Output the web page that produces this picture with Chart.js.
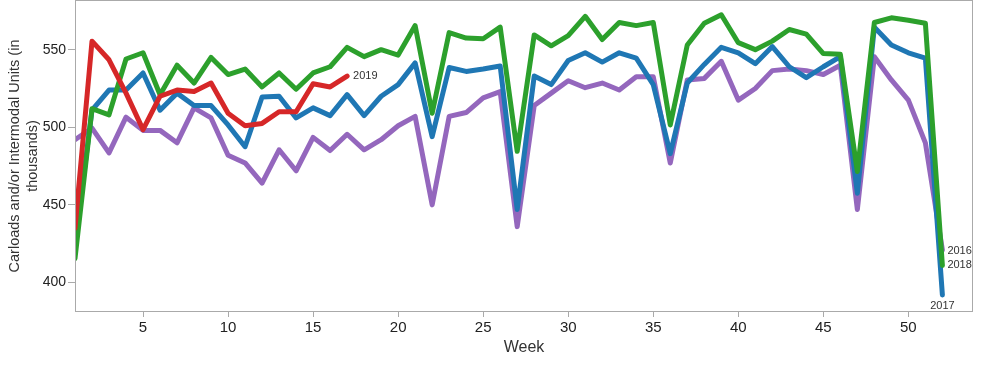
<!DOCTYPE html>
<html>
<head>
<meta charset="utf-8">
<script src="https://cdn.jsdelivr.net/npm/chart.js@4.4.1/dist/chart.umd.min.js"></script>
<style>
  html, body { margin: 0; padding: 0; background: #fff; }
  #wrap { width: 981px; height: 375px; position: relative; }
</style>
</head>
<body>
<div id="wrap"><canvas id="c" width="981" height="375"></canvas></div>
<script>
const weeks = [1,2,3,4,5,6,7,8,9,10,11,12,13,14,15,16,17,18,19,20,21,22,23,24,25,26,
  27,28,29,30,31,32,33,34,35,36,37,38,39,40,41,42,43,44,45,46,47,48,49,50,51,52];

const values2016 = [492,499.5,483.5,506.5,498,498,490,512.5,506,482,477,464,485.5,472,493.5,485,
  495.5,485.5,492,501,507,450,507,509.5,519,523,436,514,522,530,525.5,528.5,524,532.5,532.5,477,
  530.5,531.5,542.5,517.5,525,536.5,537.5,536.5,534,540,447,545.5,530.5,517.5,490,421];

const values2017 = [425,511,524,524,535,511,522,514,514,501.5,487.5,519.5,520,506,512.5,507.5,
  521,507.5,520,527.5,541.5,494,538.5,536,537.5,539.5,447,533,527.5,543,548,542,548,544.5,527.5,
  483,528.5,540.5,551.5,548,541,552,539,532,539,545.5,457.5,564.5,553,548,544.5,392];

const values2018 = [415.5,512,508,544,548,521,540,528.5,545,534,537.5,526,535,524.5,535,539,
  551.5,545.5,550,546.5,565.5,509,561,557.5,557,564.5,484.5,559.5,552.5,559,571.5,556.5,567.5,
  565.5,567.5,501.5,553,567,572.5,554.5,550,555.5,563,560,547.5,547,471.5,567.5,570.5,569,567,411];

const values2019 = [435,555.5,543.5,522,498.5,520,524,523,528.5,509,501,502.5,510,510,528,526,533];

const xTicks = [5,10,15,20,25,30,35,40,45,50];
const yTicks = [400,450,500,550];

const seriesNames = ['2016','2017','2018','2019'];
const seriesColors = ['#9467bd','#1f77b4','#2ca02c','#d62728'];
const seriesValues = [values2016, values2017, values2018, values2019];

Chart.defaults.font.family = '"Liberation Sans", Arial, sans-serif';
Chart.defaults.color = '#333';

function toPoints(vals) {
  return vals.map((v, i) => ({x: weeks[i], y: v}));
}

const datasets = seriesNames.map((name, i) => ({
  label: name,
  data: toPoints(seriesValues[i]),
  borderColor: seriesColors[i],
  backgroundColor: seriesColors[i],
  borderWidth: 5,
  pointRadius: 0,
  pointHoverRadius: 0,
  tension: 0,
  borderJoinStyle: 'round',
  borderCapStyle: 'round',
  fill: false,
  order: 4 - i
}));

// end label placement: [series index, dx, dy, align]
const endLabels = [
  [0, 5, 1, 'left'],
  [2, 5, 0, 'left'],
  [1, 0, 11, 'center'],
  [3, 6, 0, 'left']
];

const framePlugin = {
  id: 'frame',
  afterDraw(chart) {
    const {ctx, chartArea: a} = chart;
    ctx.save();
    ctx.strokeStyle = '#aaaaaa';
    ctx.lineWidth = 1;
    ctx.strokeRect(Math.round(a.left) + 0.5, Math.round(a.top) + 0.5,
      Math.round(a.right - a.left) - 1, Math.round(a.bottom - a.top) - 1);
    ctx.restore();
  }
};

const labelPlugin = {
  id: 'endLabels',
  afterDatasetsDraw(chart) {
    const {ctx, scales: {x, y}} = chart;
    ctx.save();
    ctx.font = '11px "Liberation Sans", Arial, sans-serif';
    ctx.fillStyle = '#333';
    ctx.textBaseline = 'middle';
    endLabels.forEach(([si, dx, dy, align]) => {
      const vals = seriesValues[si];
      const last = vals.length - 1;
      const px = x.getPixelForValue(weeks[last]);
      const py = y.getPixelForValue(vals[last]);
      ctx.textAlign = align;
      ctx.fillText(seriesNames[si], px + dx, py + dy);
    });
    ctx.restore();
  }
};

new Chart(document.getElementById('c'), {
  type: 'line',
  data: { datasets },
  options: {
    responsive: false,
    animation: false,
    devicePixelRatio: 1,
    layout: { padding: { top: 0, right: 8, left: 0, bottom: 0 } },
    plugins: {
      legend: { display: false },
      tooltip: { enabled: false },
      title: { display: false }
    },
    scales: {
      x: {
        type: 'linear',
        min: 1,
        max: 53.8,
        afterBuildTicks(s) { s.ticks = xTicks.map(v => ({value: v})); },
        afterFit(s) { s.height = 63; s.paddingLeft = 0; s.paddingRight = 0; },
        border: { display: false },
        grid: { display: true, drawOnChartArea: false, drawTicks: true, tickLength: 5, tickColor: '#aaaaaa' },
        ticks: { font: { size: 15 }, color: '#222', padding: 2, maxRotation: 0 },
        title: { display: true, text: 'Week', font: { size: 16 }, color: '#333', padding: { top: 0, bottom: 18 } }
      },
      y: {
        type: 'linear',
        min: 381,
        max: 582,
        afterBuildTicks(s) { s.ticks = yTicks.map(v => ({value: v})); },
        afterFit(s) { s.width = 75; s.paddingTop = 0; s.paddingBottom = 0; },
        border: { display: false },
        grid: { display: true, drawOnChartArea: false, drawTicks: true, tickLength: 7, tickColor: '#aaaaaa' },
        ticks: { font: { size: 14 }, color: '#222', padding: 2 },
        title: { display: true, text: ['Carloads and/or Intermodal Units (in', 'thousands)'],
          font: { size: 14.5, lineHeight: 1.25 }, color: '#333', padding: { top: 6, bottom: 0 } }
      }
    }
  },
  plugins: [framePlugin, labelPlugin]
});
</script>
</body>
</html>
